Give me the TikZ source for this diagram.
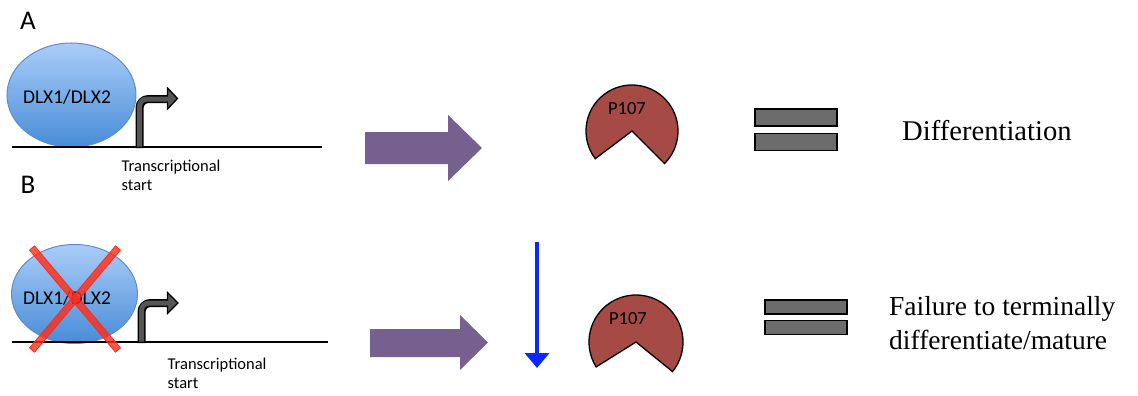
\documentclass[tikz,border=0pt]{standalone}
\usepackage{fontspec}
\setmainfont{Liberation Serif}
\newfontfamily\calib{Carlito}
\usetikzlibrary{shapes.geometric,arrows.meta,calc}
\definecolor{blobtop}{RGB}{170,205,248}
\definecolor{blobbot}{RGB}{72,140,215}
\definecolor{blobedge}{RGB}{95,140,200}
\definecolor{pacfill}{RGB}{165,74,68}
\definecolor{bargray}{RGB}{108,108,108}
\definecolor{purp}{RGB}{118,96,143}
\definecolor{bluearr}{RGB}{12,40,252}
\definecolor{xred}{RGB}{255,45,25}
\definecolor{tssgray}{RGB}{85,85,85}
\begin{document}
\begin{tikzpicture}[x=1pt,y=-1pt,
  blob/.style={ellipse, draw=blobedge, line width=1pt, top color=blobtop, bottom color=blobbot, inner sep=0pt},
  dna/.style={line width=2pt, black},
  sanslbl/.style={font=\calib\fontsize{19.5}{20}\selectfont, inner sep=0pt},
  paclbl/.style={font=\calib\fontsize{18.5}{20}\selectfont, inner sep=0pt},
  tsslbl/.style={font=\calib\fontsize{16.5}{19.5}\selectfont, inner sep=0pt, align=left, anchor=north west},
  panellbl/.style={font=\calib\fontsize{27}{28}\selectfont, inner sep=0pt},
  serlbl/.style={inner sep=0pt, align=left, anchor=west},
  pac/.style={fill=pacfill, draw=black, line width=1.3pt, line join=miter},
  eqbar/.style={rectangle, fill=bargray, draw=black, line width=1.2pt, inner sep=0pt},
  fatarrow/.style={fill=purp},
  tssout/.style={line width=8pt, black, rounded corners=9pt},
  tssin/.style={line width=5pt, tssgray, rounded corners=7.5pt},
  tsshead/.style={fill=tssgray, draw=black, line width=1.3pt, line join=miter},
  xbar/.style={fill=xred, fill opacity=0.8, draw=xred, line width=0.8pt},
  downarr/.style={line width=4pt, bluearr, -{Triangle[width=24pt,length=15pt]}}
]
\useasboundingbox (0,0) rectangle (1138,396);

% ---------- Panel A ----------
\node[panellbl] (labA) at (28,21) {A};
\node[blob, minimum width=129pt, minimum height=104pt] (blobA) at (71.5,95) {};
\node[sanslbl] (txtA) at (67,97) {DLX1/DLX2};
\coordinate (dnaAl) at (12,147);
\coordinate (dnaAr) at (322,147);
\draw[dna] (dnaAl) -- (dnaAr);
% bent arrow A
\draw[tssout] (139.5,148) -- (139.5,99) -- (168,99);
\draw[tsshead] (167.5,88) -- (177.5,98.5) -- (167.5,109) -- cycle;
\draw[tssin] (139.5,146.5) -- (139.5,99) -- (169.5,99);
\node[tsslbl] (tssA) at (121.5,159.5) {Transcriptional\\start};

% fat arrow A
\fill[fatarrow] (365,132) -- (448,132) -- (448,115) -- (482,148) -- (448,181) -- (448,164) -- (365,164) -- cycle;

% P107 A
\draw[pac] (632,131) -- ++(143:46) arc[start angle=143, end angle=405, radius=46] -- cycle;
\node[paclbl] (pA) at (627,109) {P107};

% equals A
\node[eqbar, minimum width=82pt, minimum height=17pt] (eqA1) at (796,117.5) {};
\node[eqbar, minimum width=82pt, minimum height=17pt] (eqA2) at (796,142) {};

\node[serlbl, font=\fontsize{28.6}{34}\selectfont] (diff) at (902,131) {Differentiation};

% ---------- Panel B ----------
\node[panellbl] (labB) at (28,185) {B};
\node[blob, minimum width=126pt, minimum height=99pt] (blobB) at (74.5,294) {};
\node[sanslbl] (txtB) at (67,298) {DLX1/DLX2};
\coordinate (dnaBl) at (12,342);
\coordinate (dnaBr) at (328,342);
\draw[dna] (dnaBl) -- (dnaBr);
% red cross
\coordinate (x1a) at (32,248);
\coordinate (x1b) at (118,350);
\coordinate (x2a) at (118,248);
\coordinate (x2b) at (32,350);
\draw[xbar] ($(x1a)!3.3pt!90:(x1b)$) -- ($(x1a)!3.3pt!-90:(x1b)$) -- ($(x1b)!3.3pt!90:(x1a)$) -- ($(x1b)!3.3pt!-90:(x1a)$) -- cycle;
\draw[xbar] ($(x2a)!3.3pt!90:(x2b)$) -- ($(x2a)!3.3pt!-90:(x2b)$) -- ($(x2b)!3.3pt!90:(x2a)$) -- ($(x2b)!3.3pt!-90:(x2a)$) -- cycle;
% bent arrow B
\draw[tssout] (141.5,343) -- (141.5,303) -- (168,303);
\draw[tsshead] (167.5,292.5) -- (178,303) -- (167.5,313.5) -- cycle;
\draw[tssin] (141.5,341.5) -- (141.5,303) -- (169.5,303);
\node[tsslbl] (tssB) at (167.5,357.5) {Transcriptional\\start};

% fat arrow B
\fill[fatarrow] (370,329) -- (460,329) -- (460,315) -- (488,342.5) -- (460,370) -- (460,357) -- (370,357) -- cycle;

% blue down arrow
\coordinate (blueTop) at (537,242);
\coordinate (blueBot) at (537,368);
\draw[downarr] (blueTop) -- (blueBot);

% P107 B
\draw[pac] (636,342) -- ++(148:47) arc[start angle=148, end angle=399, radius=47] -- cycle;
\node[paclbl] (pB) at (628,319) {P107};

% equals B
\node[eqbar, minimum width=82pt, minimum height=14pt] (eqB1) at (806,307) {};
\node[eqbar, minimum width=82pt, minimum height=14pt] (eqB2) at (806,327.5) {};

\node[serlbl, font=\fontsize{27.5}{34}\selectfont] (fail) at (889,323) {Failure to terminally\\differentiate/mature};
\end{tikzpicture}
\end{document}
